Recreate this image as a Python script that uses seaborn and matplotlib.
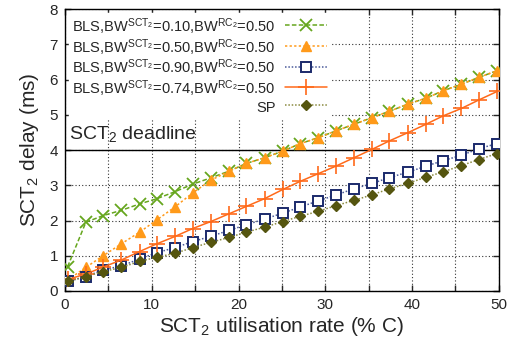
import numpy as np
import pandas as pd
import matplotlib
matplotlib.use("Agg")
import matplotlib.pyplot as plt
import seaborn as sns
from matplotlib.lines import Line2D

sns.set_theme(style="ticks")
plt.rcParams['font.family'] = ['Liberation Sans', 'DejaVu Sans']
plt.rcParams['mathtext.fontset'] = 'custom'
plt.rcParams['mathtext.rm'] = 'Liberation Sans'
plt.rcParams['mathtext.it'] = 'Liberation Sans:italic'
plt.rcParams['mathtext.bf'] = 'Liberation Sans:bold'

# ---- data ----
utilisation = [0.3, 2.4, 4.4, 6.5, 8.6, 10.6, 12.7, 14.7, 16.8, 18.9, 20.9, 23.0, 25.1,
               27.1, 29.2, 31.2, 33.3, 35.4, 37.4, 39.5, 41.6, 43.6, 45.7, 47.7, 49.8]
bw010 = [0.69, 1.95, 2.14, 2.29, 2.47, 2.62, 2.82, 3.03, 3.21, 3.40, 3.62, 3.78, 3.97,
         4.18, 4.35, 4.54, 4.73, 4.92, 5.10, 5.30, 5.47, 5.68, 5.87, 6.06, 6.25]
bw050 = [0.31, 0.67, 1.00, 1.34, 1.67, 2.02, 2.39, 2.78, 3.14, 3.40, 3.62, 3.78, 3.97,
         4.18, 4.35, 4.54, 4.73, 4.92, 5.10, 5.30, 5.47, 5.68, 5.87, 6.06, 6.25]
bw090 = [0.27, 0.41, 0.60, 0.71, 0.91, 1.09, 1.23, 1.40, 1.55, 1.72, 1.88, 2.04, 2.21,
         2.38, 2.56, 2.72, 2.90, 3.05, 3.22, 3.37, 3.54, 3.70, 3.85, 4.04, 4.18]
bw074 = [0.33, 0.48, 0.68, 0.88, 1.12, 1.34, 1.55, 1.77, 1.97, 2.19, 2.40, 2.62, 2.88,
         3.11, 3.33, 3.54, 3.78, 4.02, 4.26, 4.49, 4.73, 4.97, 5.18, 5.42, 5.66]
sp = [0.27, 0.41, 0.55, 0.67, 0.84, 0.96, 1.07, 1.23, 1.38, 1.52, 1.67, 1.81, 1.97,
      2.12, 2.26, 2.42, 2.57, 2.73, 2.90, 3.05, 3.23, 3.38, 3.56, 3.73, 3.90]

labels = [
    r"BLS,BW$^{\mathrm{SCT}_2}$=0.10,BW$^{\mathrm{RC}_2}$=0.50",
    r"BLS,BW$^{\mathrm{SCT}_2}$=0.50,BW$^{\mathrm{RC}_2}$=0.50",
    r"BLS,BW$^{\mathrm{SCT}_2}$=0.90,BW$^{\mathrm{RC}_2}$=0.50",
    r"BLS,BW$^{\mathrm{SCT}_2}$=0.74,BW$^{\mathrm{RC}_2}$=0.50",
    "SP",
]
series = [bw010, bw050, bw090, bw074, sp]
deadline = 4.0

styles = [
    dict(color="#66a61e", linestyle=(0, (3, 1.5)), marker="x", markersize=8.5, mew=1.3,
         mfc="#66a61e", mec="#66a61e"),
    dict(color="#ff9a1a", linestyle=(0, (1.5, 1.5)), marker="^", markersize=7.5, mew=1,
         mfc="#ff9a1a", mec="#ff9a1a"),
    dict(color="#1b2a6b", linestyle=(0, (1, 1.2)), marker="s", markersize=7.3, mew=1.4,
         mfc="white", mec="#1b2a6b", linecolor="#4a5a9a"),
    dict(color="#ff6a1a", linestyle="-", marker="+", markersize=11.5, mew=1.2,
         mfc="#ff6a1a", mec="#ff6a1a"),
    dict(color="#8a8a40", linestyle=(0, (1, 1.2)), marker="D", markersize=5.5, mew=1,
         mfc="#55550f", mec="#55550f"),
]

fig = plt.figure(figsize=(5.10, 3.47), dpi=100)
ax = fig.add_axes([0.1275, 0.1614, 0.8505, 0.8126])

handles = []
for lab, y, st in zip(labels, series, styles):
    df = pd.DataFrame({"x": utilisation, "y": y})
    lc = st.get("linecolor", st["color"])
    sns.lineplot(data=df, x="x", y="y", ax=ax, color=lc, linestyle=st["linestyle"],
                 linewidth=1.1, marker=st["marker"], markersize=st["markersize"],
                 markeredgewidth=st["mew"], markerfacecolor=st["mfc"],
                 markeredgecolor=st["mec"], legend=False, zorder=3, sort=False)
    handles.append(Line2D([], [], color=lc, linestyle=st["linestyle"], linewidth=1.1,
                          marker=st["marker"], markersize=st["markersize"],
                          markeredgewidth=st["mew"], markerfacecolor=st["mfc"],
                          markeredgecolor=st["mec"]))

ax.axhline(deadline, color="black", linewidth=1.0, zorder=2)
ax.text(0.5, deadline + 0.17, r"SCT$_2$ deadline", fontsize=14, ha="left", va="bottom")

ax.set_xlim(0, 50)
ax.set_ylim(0, 8)
ax.set_xticks(np.arange(0, 51, 5))
ax.set_xticklabels([str(v) if v % 10 == 0 else "" for v in range(0, 51, 5)])
ax.set_yticks(np.arange(0, 9, 1))
ax.grid(True, color="#333333", linestyle=(0, (1, 2)), linewidth=0.8, zorder=1)
ax.tick_params(direction="in", top=True, right=True, length=4, width=1,
               labelsize=11, pad=5)
for s in ax.spines.values():
    s.set_linewidth(1.0)
    s.set_color("black")

ax.set_xlabel(r"SCT$_2$ utilisation rate (% C)", fontsize=15, labelpad=2)
ax.set_ylabel(r"SCT$_2$ delay (ms)", fontsize=15, labelpad=6)

leg = ax.legend(handles, labels, loc="upper left", markerfirst=False, frameon=True,
                fontsize=10.5, handlelength=2.9, handletextpad=0.6, labelspacing=0.0,
                handleheight=1.3, borderaxespad=0.3, borderpad=0.2, fancybox=False)
leg.get_frame().set_edgecolor("white")
leg.get_frame().set_facecolor("white")
leg.get_frame().set_alpha(1.0)
leg.set_zorder(5)

fig.savefig("out.png", dpi=100)
